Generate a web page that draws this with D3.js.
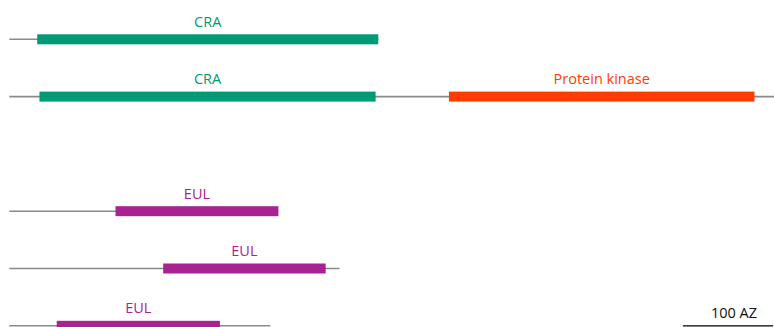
<!DOCTYPE html>
<html>
<head>
<meta charset="utf-8">
<script src="https://cdn.jsdelivr.net/npm/d3@7"></script>
<style>
  body { margin: 0; background: #fff; }
  svg { display: block; }
</style>
</head>
<body>
<script>
// protein domain diagram, lengths in amino acids
var svgWidth = 774;
var svgHeight = 327;

// one entry per protein row (row slot 2 is left empty, like the picture)
const rowSlots = [0, 1, 3, 4, 5];
const proteinLengths = [410, 850, 299, 367, 290];
const domainNames = [["CRA"], ["CRA", "Protein kinase"], ["EUL"], ["EUL"], ["EUL"]];
const domainStarts = [[31], [33.5, 488.5], [118], [171], [52.7]];
const domainEnds = [[410], [407, 828], [299], [351.5], [234]];
const scaleBarLength = 100;
const scaleBarLabel = "100 AZ";

const domainColors = {"CRA": "#009a74", "Protein kinase": "#ff3c00", "EUL": "#a82292"};

var svg = d3.select("body")
  .append("svg")
  .attr("width", svgWidth)
  .attr("height", svgHeight)
  .style("font-family", "'Open Sans', sans-serif");

// x: amino acid -> px
var x = d3.scaleLinear()
  .domain([0, 850])
  .range([9.3, 9.3 + 850 * 0.9]);

// y: row slot -> centre of the backbone
var y = d3.scaleLinear()
  .domain([0, 5])
  .range([39.3, 325.8]);

const barHeight = 10;

var rows = svg.selectAll(".protein")
  .data(proteinLengths)
  .enter()
  .append("g")
    .attr("class", "protein")
    .attr("transform", (d, i) => `translate(0, ${y(rowSlots[i])})`);

// backbone line
rows.append("line")
  .attr("x1", x(0))
  .attr("x2", d => x(d))
  .attr("y1", 0)
  .attr("y2", 0)
  .attr("stroke", "#8a8a8a")
  .attr("stroke-width", 1.6);

// domains
rows.each(function(len, i) {
  var g = d3.select(this);
  domainNames[i].forEach(function(name, j) {
    var s = domainStarts[i][j], e = domainEnds[i][j];
    g.append("rect")
      .attr("x", x(s))
      .attr("y", -barHeight / 2)
      .attr("width", x(e) - x(s))
      .attr("height", barHeight)
      .attr("fill", domainColors[name]);
    g.append("text")
      .attr("x", (x(s) + x(e)) / 2)
      .attr("y", -12.6)
      .attr("text-anchor", "middle")
      .attr("font-size", "14.5px")
      .attr("fill", domainColors[name])
      .text(name);
  });
});

// scale bar
var barX = 683;
svg.append("line")
  .attr("x1", barX)
  .attr("x2", barX + x(scaleBarLength) - x(0))
  .attr("y1", 325.8)
  .attr("y2", 325.8)
  .attr("stroke", "#000")
  .attr("stroke-width", 1.2);

svg.append("text")
  .attr("x", barX + (x(scaleBarLength) - x(0)) / 2 + 6)
  .attr("y", 318)
  .attr("text-anchor", "middle")
  .attr("font-size", "14.5px")
  .attr("fill", "#111")
  .text(scaleBarLabel);
</script>
</body>
</html>
